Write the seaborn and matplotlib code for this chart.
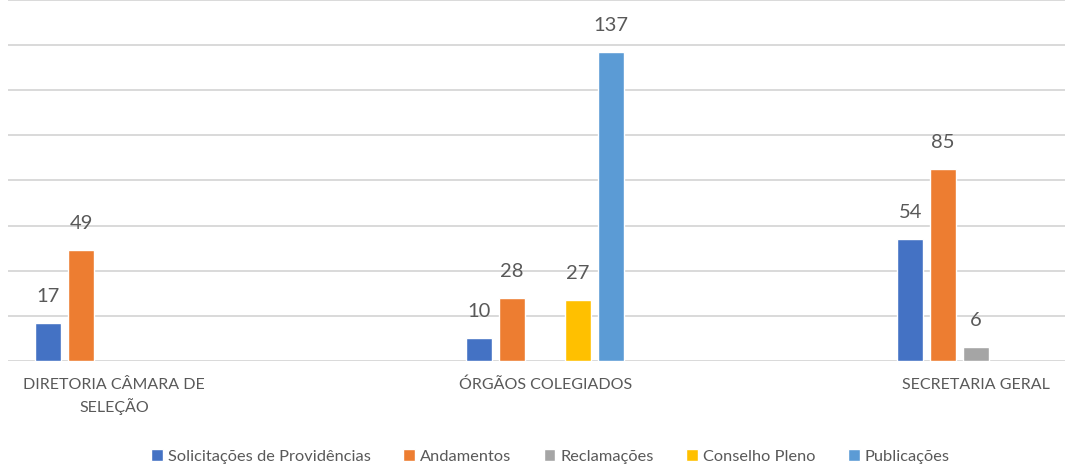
import pandas as pd
import matplotlib.pyplot as plt
import seaborn as sns

# Dados do gráfico
categorias = ['DIRETORIA CÂMARA DE\nSELEÇÃO', 'ÓRGÃOS COLEGIADOS', 'SECRETARIA GERAL']
series = ['Solicitações de Providências', 'Andamentos', 'Reclamações', 'Conselho Pleno', 'Publicações']
cores = ['#4472C4', '#ED7D31', '#A5A5A5', '#FFC000', '#5B9BD5']

solicitacoes = [17, 10, 54]
andamentos = [49, 28, 85]
reclamacoes = [None, None, 6]
conselho_pleno = [None, 27, None]
publicacoes = [None, 137, None]

valores = [solicitacoes, andamentos, reclamacoes, conselho_pleno, publicacoes]
linhas = []
for nome, vals in zip(series, valores):
    for cat, v in zip(categorias, vals):
        if v is not None:
            linhas.append({'categoria': cat, 'serie': nome, 'valor': v})
df = pd.DataFrame(linhas)

sns.set_style('white')
plt.rcParams['font.family'] = ['Lato', 'DejaVu Sans']

fig = plt.figure(figsize=(10.75, 4.65), dpi=100)
ax = fig.add_axes([0.0074, 0.2237, 0.9833, 0.7763])

sns.barplot(data=df, x='categoria', y='valor', hue='serie', order=categorias,
            hue_order=series, palette=cores, width=0.383, gap=0.21,
            saturation=1, legend=True, ax=ax)

for c in ax.containers:
    ax.bar_label(c, fmt='%d', padding=13, fontsize=14.5, color='#595959')

ax.set_ylim(0, 160)
ax.set_xlim(-0.246, 2.206)
ax.set_yticks(range(0, 161, 20))
ax.set_yticklabels([])
ax.yaxis.grid(True, color='#D9D9D9', linewidth=1.4)
ax.set_axisbelow(True)
ax.tick_params(axis='both', length=0)
ax.tick_params(axis='x', pad=12, labelsize=11.5, labelcolor='#595959')
for t in ax.get_xticklabels():
    t.set_linespacing(1.45)
ax.set_xlabel('')
ax.set_ylabel('')
sns.despine(ax=ax, left=True, bottom=True)

handles, labels = ax.get_legend_handles_labels()
ax.get_legend().remove()
fig.legend(handles, labels, loc='center', bbox_to_anchor=(0.512, 0.018), ncol=5,
           frameon=False, fontsize=11.8, handlelength=0.7, handleheight=0.7,
           handletextpad=0.3, columnspacing=2.0, labelcolor='#595959')

plt.savefig('out.png', dpi=100)
